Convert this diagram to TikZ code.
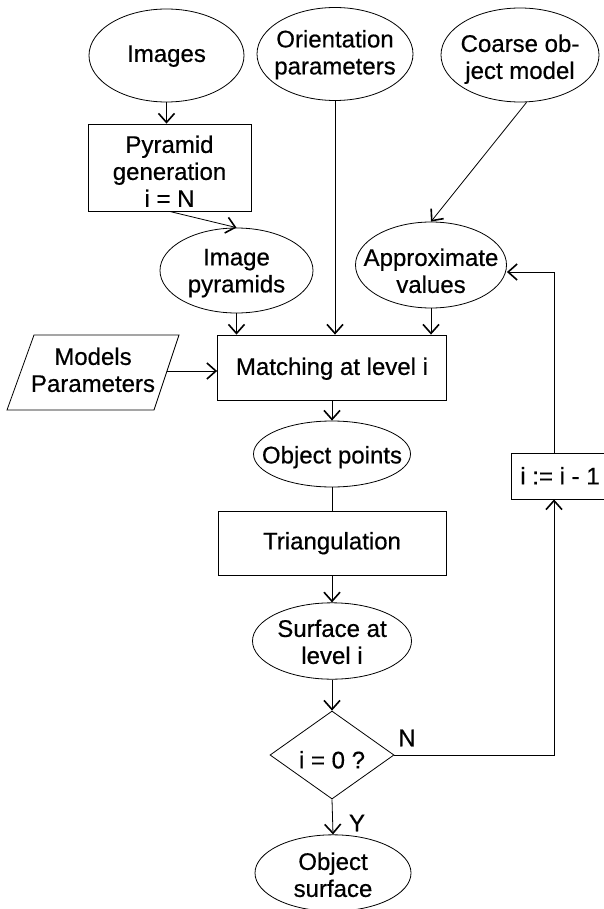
\documentclass[tikz,border=0pt]{standalone}
\usepackage{fontspec}
\setmainfont{Liberation Sans}[FakeBold=0.5]
\usetikzlibrary{shapes.geometric,arrows.meta}
\newcommand{\ztext}[2][2pt]{\makebox[0pt][c]{\raisebox{-#1}[\height][\depth]{\begin{tabular}{@{}c@{}}#2\end{tabular}}}}
\begin{document}
\begin{tikzpicture}[x=1pt,y=-1pt,
  every node/.style={font=\fontsize{24}{27}\selectfont, align=center, inner sep=0pt},
  ell/.style={draw, ellipse, line width=0.8pt},
  box/.style={draw, rectangle, line width=0.8pt},
  conn/.style={line width=0.8pt},
  arr/.style={conn, -{Straight Barb[length=9pt,width=16pt,line width=1.6pt]}},
]
\useasboundingbox (0,0) rectangle (603,909);

% top row
\node[ell, minimum width=155pt, minimum height=93pt] (images) at (166.5,55.5) {\ztext[1pt]{Images}};
\node[ell, minimum width=156pt, minimum height=93pt] (orient) at (335,54) {\ztext[1.5pt]{Orientation\\parameters}};
\node[ell, minimum width=158pt, minimum height=94pt] (coarse) at (520,55) {\ztext[5pt]{Coarse ob-\\ject model}};

\node[box, minimum width=163pt, minimum height=87pt] (pyr) at (169.5,167.5) {\ztext[7pt]{Pyramid\\generation\\i = N}};
\node[ell, minimum width=153pt, minimum height=85pt] (impyr) at (236.5,270.5) {\ztext[3pt]{Image\\pyramids}};
\node[ell, minimum width=151pt, minimum height=86pt] (approx) at (431,265) {\ztext[9pt]{Approximate\\values}};

% models parallelogram
\node (models) at (93,371) {\ztext[2pt]{Models\\Parameters}};
\draw[conn] (34,335) -- (179,335) -- (154,410) -- (7,410) -- cycle;
\coordinate (modelsR) at (167,371);

\node[box, minimum width=229pt, minimum height=65pt] (match) at (332,367.5) {\ztext[2pt]{Matching at level i}};
\node[ell, minimum width=157pt, minimum height=66pt] (objpts) at (332,454) {\ztext[4pt]{Object points}};
\node[box, minimum width=228pt, minimum height=64pt] (tri) at (332,543) {\ztext[1pt]{Triangulation}};
\node[ell, minimum width=159pt, minimum height=76pt] (surf) at (332,641) {\ztext[4pt]{Surface at\\level i}};
\node[draw, diamond, line width=0.8pt, minimum width=124pt, minimum height=88pt] (dia) at (332,755) {\ztext[8pt]{i = 0 ?}};
\node[ell, minimum width=156pt, minimum height=76pt] (objsurf) at (333,873) {\ztext[5pt]{Object\\surface}};

\node[box, minimum width=98pt, minimum height=46pt] (dec) at (560,476) {\ztext[3pt]{i := i - 1}};

\node (nlab) at (407,738) {N};
\node (ylab) at (357,823) {Y};

% connectors
\draw[arr] (images.south) -- (images.south |- pyr.north);
\draw[arr] (pyr.south) -- (impyr.north);
\draw[arr] (impyr.south) -- (impyr.south |- match.north);
\draw[arr] (orient.south) -- (orient.south |- match.north);
\draw[arr] (coarse.-82) -- (approx.north);
\draw[arr] (approx.south) -- (approx.south |- match.north);
\draw[arr] (modelsR) -- (modelsR -| match.west);
\draw[arr] (match.south) -- (objpts.north);
\draw[conn] (objpts.south) -- (tri.north);
\draw[arr] (tri.south) -- (surf.north);
\draw[arr] (surf.south) -- (dia.north);
\draw[arr] (dia.south) -- (objsurf.north);
\draw[arr] (dia.east) -| ([xshift=-6pt]dec.south);
\draw[arr] ([xshift=-6pt]dec.north) |- ([yshift=-7pt]approx.east);
\end{tikzpicture}
\end{document}
